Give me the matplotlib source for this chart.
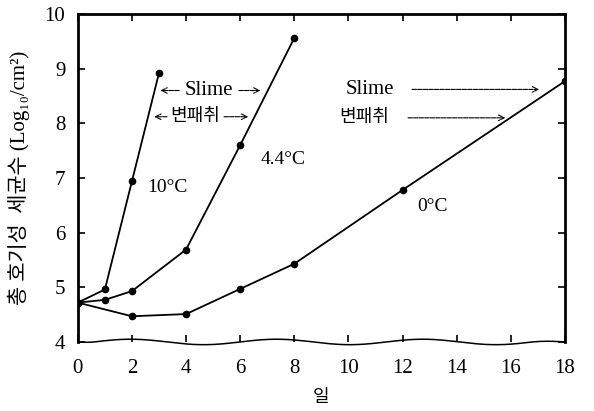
import numpy as np
import matplotlib.pyplot as plt

# ---------------------------------------
# Data
# ---------------------------------------
days_10 = [0, 1, 2, 3]
cnt_10 = [4.72, 4.96, 6.94, 8.92]

days_44 = [0, 1, 2, 4, 6, 8]
cnt_44 = [4.72, 4.77, 4.93, 5.69, 7.60, 9.56]

days_0 = [0, 2, 4, 6, 8, 12, 18]
cnt_0 = [4.72, 4.47, 4.51, 4.97, 5.43, 6.78, 8.77]

xticks = list(range(0, 19, 2))
yticks = list(range(4, 11))

FONT = ['Liberation Serif', 'Noto Sans CJK KR']
plt.rcParams['font.family'] = FONT

fig = plt.figure(figsize=(5.94, 4.11), dpi=100)
ax = fig.add_axes([0.131, 0.168, 0.82, 0.798])

for d, c in [(days_10, cnt_10), (days_44, cnt_44), (days_0, cnt_0)]:
    ax.plot(d, c, color='black', lw=1.3, marker='o', ms=4.5)

ax.set_xlim(0, 18)
ax.set_ylim(4, 10)
ax.set_xticks(xticks)
ax.set_yticks(yticks)
ax.tick_params(direction='in', length=5, width=1.2, labelsize=15,
               top=True, right=True)
ax.tick_params(axis='x', pad=12)
ax.tick_params(axis='y', pad=9)
for s in ax.spines.values():
    s.set_linewidth(2)
ax.spines['bottom'].set_visible(False)

# wavy broken bottom axis
wx = np.linspace(0, 18, 300)
wy = 4 + 0.05 * np.sin(2 * np.pi * (wx - 0.6) / 5.4) * np.minimum(1, (18 - wx) / 1.5) * np.minimum(1, wx / 0.8)
ax.plot(wx, wy, color='black', lw=1.1, clip_on=False)

# curve labels
ax.text(3.3, 6.82, '10°C', fontsize=14, ha='center', va='center')
ax.text(7.6, 7.33, '4.4°C', fontsize=14, ha='center', va='center')
ax.text(13.1, 6.47, '0°C', fontsize=14, ha='center', va='center')

# spoilage markers
arr = dict(arrowstyle='->', lw=0.8, color='black', linestyle=(0, (4, 1)))
ax.annotate('', xy=(2.95, 8.6), xytext=(3.85, 8.6), arrowprops=arr)
ax.annotate('', xy=(6.85, 8.6), xytext=(5.85, 8.6), arrowprops=arr)
ax.text(4.85, 8.6, 'Slime', fontsize=15, ha='center', va='center')
ax.annotate('', xy=(2.72, 8.12), xytext=(3.4, 8.12), arrowprops=arr)
ax.annotate('', xy=(6.4, 8.12), xytext=(5.3, 8.12), arrowprops=arr)
ax.text(4.35, 8.12, '변패취', fontsize=13, ha='center', va='center')

ax.text(10.8, 8.62, 'Slime', fontsize=15, ha='center', va='center')
ax.annotate('', xy=(17.15, 8.62), xytext=(12.25, 8.62), arrowprops=arr)
ax.text(10.6, 8.1, '변패취', fontsize=13, ha='center', va='center')
ax.annotate('', xy=(15.9, 8.1), xytext=(12.1, 8.1), arrowprops=arr)

ax.set_xlabel('일', fontsize=13)
ax.xaxis.set_label_coords(0.5, -0.143)
ax.set_ylabel('총 호기성  세균수 (Log₁₀/cm²)', fontsize=15)
ax.yaxis.set_label_coords(-0.098, 0.5)

fig.savefig('out.png', dpi=100)
